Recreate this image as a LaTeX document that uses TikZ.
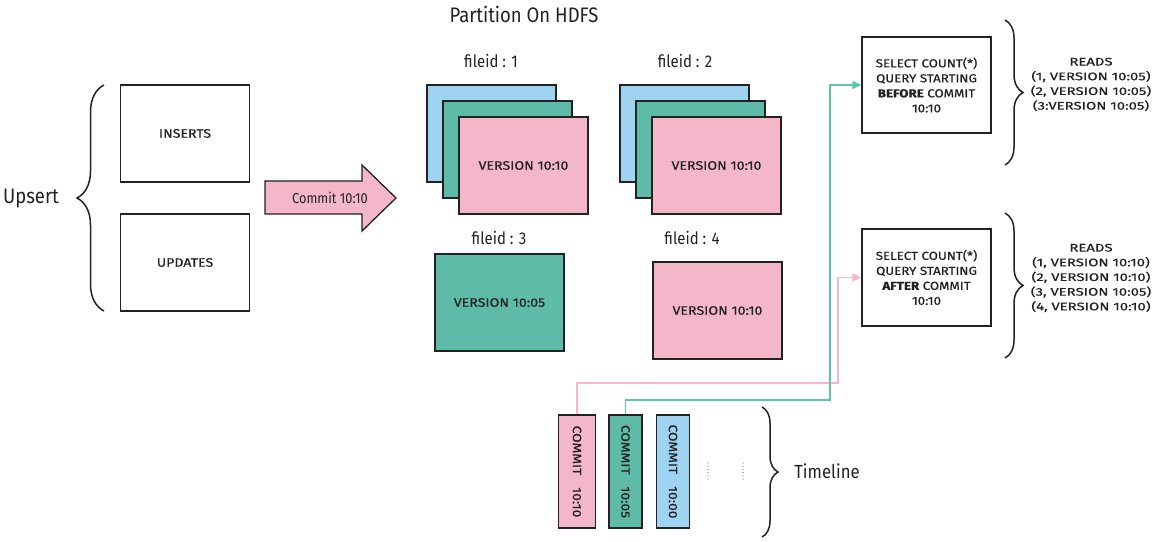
\documentclass[tikz,border=0pt]{standalone}
\usepackage{fontspec}
\setmainfont{Fira Sans}
\newfontfamily\titfont{Fira Sans}[FakeStretch=0.88]
\newfontfamily\labfont{Fira Sans}[FakeStretch=1.15, FakeBold=0.6]
\newfontfamily\readfont{Fira Sans}[FakeStretch=1.35, FakeBold=0.6]
\usetikzlibrary{decorations.pathreplacing,arrows.meta}
\definecolor{cblue}{HTML}{9FD3F2}
\definecolor{cgreen}{HTML}{5DBBA8}
\definecolor{cpink}{HTML}{F4B6C9}
\definecolor{lpink}{HTML}{F7B6CB}
\definecolor{lgreen}{HTML}{5CC5AC}
\definecolor{ink}{HTML}{222222}
\tikzset{
  box/.style={draw=ink, line width=1.3pt, minimum width=129pt, minimum height=97pt, inner sep=0pt,
    font=\labfont\fontsize{12.3}{14}\selectfont, text=ink},
  qbox/.style={box, align=center, font=\labfont\fontsize{11.6}{15}\selectfont},
  cbox/.style={draw=ink, line width=1.3pt, minimum width=113pt, inner sep=0pt, rotate=-90,
    font=\labfont\fontsize{12}{12}\selectfont, text=ink},
  tit/.style={font=\titfont\fontsize{#1}{#1}\selectfont, text=ink, inner sep=0pt},
  reads/.style={align=center, font=\readfont\fontsize{11}{14.7}\selectfont, text=ink, inner sep=0pt},
  curly/.style={draw=ink, line width=1.5pt, decorate, decoration={brace, amplitude=#1}},
  conn/.style={line width=1.3pt, -{Triangle[length=9pt,width=8pt]}},
}
\begin{document}
\begin{tikzpicture}[x=1pt,y=-1pt]
\useasboundingbox (0,0) rectangle (1156,541);
\fill[white] (0,0) rectangle (1156,541);

% left side
\node[box] (ins) at (185,133.5) {INSERTS};
\node[box] (upd) at (185,262.5) {UPDATES};
\draw[curly=27pt] (104,311) -- (104,85);
\node[tit=21] (upsert) at (31,198) {Upsert};

% commit arrow
\draw[draw=ink, line width=1.3pt, fill=cpink, line join=miter]
  (265,181) -- (362,181) -- (362,165) -- (396,198) -- (362,231) -- (362,214) -- (265,214) -- cycle;
\node[tit=14.5] (commit) at (330,198) {Commit 10:10};

% partition
\node[tit=21] (ptitle) at (524,14) {Partition On HDFS};
\node[tit=17] (f1) at (491,61) {fileid : 1};
\node[tit=17] (f2) at (685,61) {fileid : 2};
\node[tit=17] (f3) at (499,238) {fileid : 3};
\node[tit=17] (f4) at (692,238) {fileid : 4};

\node[box, fill=cblue] (s1b) at (491.5,133.5) {};
\node[box, fill=cgreen] (s1g) at (507.5,149.5) {};
\node[box, fill=cpink] (s1p) at (523.5,165.5) {VERSION 10:10};
\node[box, fill=cblue] (s2b) at (684.5,133.5) {};
\node[box, fill=cgreen] (s2g) at (700.5,149.5) {};
\node[box, fill=cpink] (s2p) at (716.5,165.5) {VERSION 10:10};
\node[box, fill=cgreen] (b3) at (499.5,302.5) {VERSION 10:05};
\node[box, fill=cpink] (b4) at (717.5,310.5) {VERSION 10:10};

% queries
\node[qbox, minimum height=96pt] (q1) at (926.5,85) {SELECT COUNT(*)\\QUERY STARTING\\{\bfseries BEFORE} COMMIT\\10:10};
\node[qbox] (q2) at (926.5,277.5) {SELECT COUNT(*)\\QUERY STARTING\\{\bfseries AFTER} COMMIT\\10:10};
\draw[curly=18pt] (1005,20) -- (1005,165);
\draw[curly=18pt] (1005,213) -- (1005,358);
\node[reads] (r1) at (1091,84.5) {READS\\(1, VERSION 10:05)\\(2, VERSION 10:05)\\(3:VERSION 10:05)};
\node[reads] (r2) at (1091,278) {READS\\(1, VERSION 10:10)\\(2, VERSION 10:10)\\(3, VERSION 10:05)\\(4, VERSION 10:10)};

% timeline
\node[cbox, fill=cpink, minimum height=37pt] (c1010) at (577,471.5) {COMMIT\quad 10:10};
\node[cbox, fill=cgreen, minimum height=33pt] (c1005) at (625.5,471.5) {COMMIT\quad 10:05};
\node[cbox, fill=cblue, minimum height=33pt] (c1000) at (673,471.5) {COMMIT\quad 10:00};
\draw[ink, line width=1pt, line cap=round, dash pattern=on 0pt off 3.2pt] (708,463) -- (708,480);
\draw[ink, line width=1pt, line cap=round, dash pattern=on 0pt off 3.2pt] (743,463) -- (743,480);
\draw[curly=16pt] (762,407) -- (762,537);
\node[tit=19] (tl) at (827,471) {Timeline};

% connectors
\draw[conn, lpink] (c1010.west) |- (838,383) |- (q2.west);
\draw[conn, lgreen] (c1005.west) |- (830,400) |- (q1.west);
\end{tikzpicture}
\end{document}
